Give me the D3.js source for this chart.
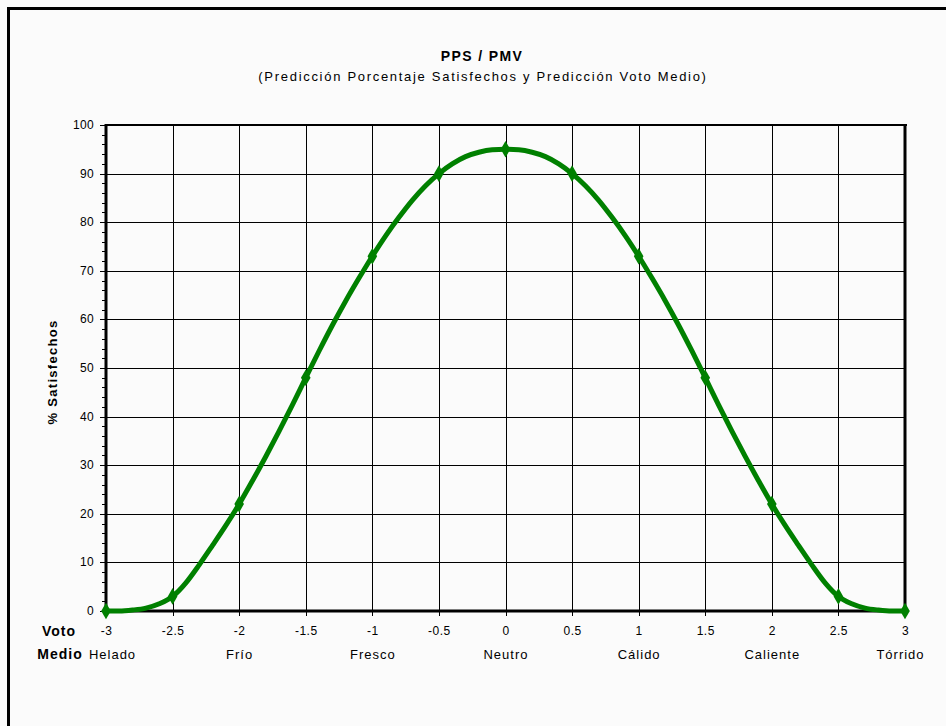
<!DOCTYPE html>
<html>
<head>
<meta charset="utf-8">
<script src="https://cdn.jsdelivr.net/npm/d3@7"></script>
<style>
html,body{margin:0;padding:0;background:#fbfbfb;}
svg{display:block;}
text{font-family:"Liberation Sans",Arial,sans-serif;fill:#000;}
</style>
</head>
<body>
<svg id="c" width="946" height="726"></svg>
<script>
// ---- data ----
const pmv = [-3,-2.9,-2.8,-2.7,-2.6,-2.5,-2.4,-2.3,-2.2,-2.1,-2,-1.9,-1.8,-1.7,-1.6,-1.5,-1.4,-1.3,-1.2,-1.1,-1,-0.9,-0.8,-0.7,-0.6,-0.5,-0.4,-0.3,-0.2,-0.1,0,0.1,0.2,0.3,0.4,0.5,0.6,0.7,0.8,0.9,1,1.1,1.2,1.3,1.4,1.5,1.6,1.7,1.8,1.9,2,2.1,2.2,2.3,2.4,2.5,2.6,2.7,2.8,2.9,3];
const pps = [0,0,0.2,0.6,1.5,3,5.8,9.5,13.5,17.6,22,26.8,31.8,37,42.4,48,53.5,58.8,63.8,68.5,73,77.2,81,84.5,87.5,90,92,93.5,94.4,94.9,95,94.9,94.4,93.5,92,90,87.5,84.5,81,77.2,73,68.5,63.8,58.8,53.5,48,42.4,37,31.8,26.8,22,17.6,13.5,9.5,5.8,3,1.5,0.6,0.2,0,0];
const markerPmv = [-3,-2.5,-2,-1.5,-1,-0.5,0,0.5,1,1.5,2,2.5,3];
const markerPps = [0,3,22,48,73,90,95,90,73,48,22,3,0];
const xTicks = [-3,-2.5,-2,-1.5,-1,-0.5,0,0.5,1,1.5,2,2.5,3];
const yTicks = [0,10,20,30,40,50,60,70,80,90,100];
const categoryPos = [-3,-2,-1,0,1,2,3];
const categoryLabels = ["Helado","Frío","Fresco","Neutro","Cálido","Caliente","Tórrido"];
const titleText = "PPS / PMV";
const subtitleText = "(Predicción Porcentaje Satisfechos y Predicción Voto Medio)";
const yLabel = "% Satisfechos";

const svg = d3.select("#c");
// outer frame
svg.append("rect").attr("x",8.5).attr("y",8.5).attr("width",1200).attr("height",1200)
  .attr("fill","#fbfbfb").attr("stroke","#000").attr("stroke-width",3);

const L=106, R=905, T=125, B=611;
const x = d3.scaleLinear().domain([-3,3]).range([L,R]);
const y = d3.scaleLinear().domain([0,100]).range([B,T]);

// grid
const g = svg.append("g");
g.selectAll(".vg").data(xTicks).join("line")
  .attr("x1",d=>Math.round(x(d))+0.5).attr("x2",d=>Math.round(x(d))+0.5)
  .attr("y1",T).attr("y2",B+5).attr("stroke","#000").attr("stroke-width",1);
g.selectAll(".hg").data(yTicks).join("line")
  .attr("x1",L).attr("x2",R).attr("y1",d=>Math.round(y(d))+0.5).attr("y2",d=>Math.round(y(d))+0.5)
  .attr("stroke","#000").attr("stroke-width",1);

// y axis minor ticks
const minor = d3.range(0,101,2);
g.selectAll(".mt").data(minor).join("line")
  .attr("x1",d=> d%10===0 ? L-6 : L-4).attr("x2",L)
  .attr("y1",d=>Math.round(y(d))+0.5).attr("y2",d=>Math.round(y(d))+0.5)
  .attr("stroke","#000").attr("stroke-width",1);

// plot border
g.append("line").attr("x1",L-1).attr("x2",R+2).attr("y1",T).attr("y2",T).attr("stroke","#000").attr("stroke-width",2);
g.append("line").attr("x1",R).attr("x2",R).attr("y1",T-1).attr("y2",B).attr("stroke","#000").attr("stroke-width",3);
g.append("line").attr("x1",L).attr("x2",L).attr("y1",T-1).attr("y2",B+1).attr("stroke","#000").attr("stroke-width",3);
g.append("line").attr("x1",L-1).attr("x2",R+1).attr("y1",B).attr("y2",B).attr("stroke","#000").attr("stroke-width",3);

// y tick labels
g.selectAll(".yl").data(yTicks).join("text")
  .attr("x",L-12).attr("y",d=>y(d)+4).attr("text-anchor","end")
  .style("font-size","12px").style("letter-spacing","0.3px").text(d=>d);

// x tick labels
g.selectAll(".xl").data(xTicks).join("text")
  .attr("x",d=>x(d)+0.5).attr("y",635).attr("text-anchor","middle")
  .style("font-size","12px").style("letter-spacing","0.5px").text(d=>d);

// category labels
const catOffset = [6,0,0,0,0,0,-5];
g.selectAll(".cl").data(categoryPos).join("text")
  .attr("x",(d,i)=>x(d)+catOffset[i]+0.5).attr("y",659).attr("text-anchor","middle")
  .style("font-size","13px").style("letter-spacing","1px").text((d,i)=>categoryLabels[i]);

// Voto Medio
svg.append("text").attr("x",59).attr("y",636).attr("text-anchor","middle")
  .style("font-size","14px").style("font-weight","bold").style("letter-spacing","1px").text("Voto");
svg.append("text").attr("x",60).attr("y",659).attr("text-anchor","middle")
  .style("font-size","14px").style("font-weight","bold").style("letter-spacing","1px").text("Medio");

// y label
svg.append("text").attr("transform","translate(57,372) rotate(-90)").attr("text-anchor","middle")
  .style("font-size","13px").style("font-weight","bold").style("letter-spacing","1.3px").text(yLabel);

// titles
svg.append("text").attr("x",482).attr("y",61).attr("text-anchor","middle")
  .style("font-size","14px").style("font-weight","bold").style("letter-spacing","1.4px").text(titleText);
svg.append("text").attr("x",483).attr("y",81).attr("text-anchor","middle")
  .style("font-size","13px").style("letter-spacing","1.7px").text(subtitleText);

// curve
const pts = pmv.map((d,i)=>[d,pps[i]]);
const line = d3.line().x(d=>x(d[0])).y(d=>y(d[1])).curve(d3.curveMonotoneX);
svg.append("path").datum(pts).attr("d",line).attr("fill","none")
  .attr("stroke","#008000").attr("stroke-width",5).attr("stroke-linejoin","round");

// markers
const sym = d3.symbol().type(d3.symbolDiamond).size(80);
svg.selectAll(".mk").data(markerPmv).join("path")
  .attr("transform",(d,i)=>`translate(${x(d)},${y(markerPps[i])})`)
  .attr("d",sym).attr("fill","#008000");
</script>
</body>
</html>
